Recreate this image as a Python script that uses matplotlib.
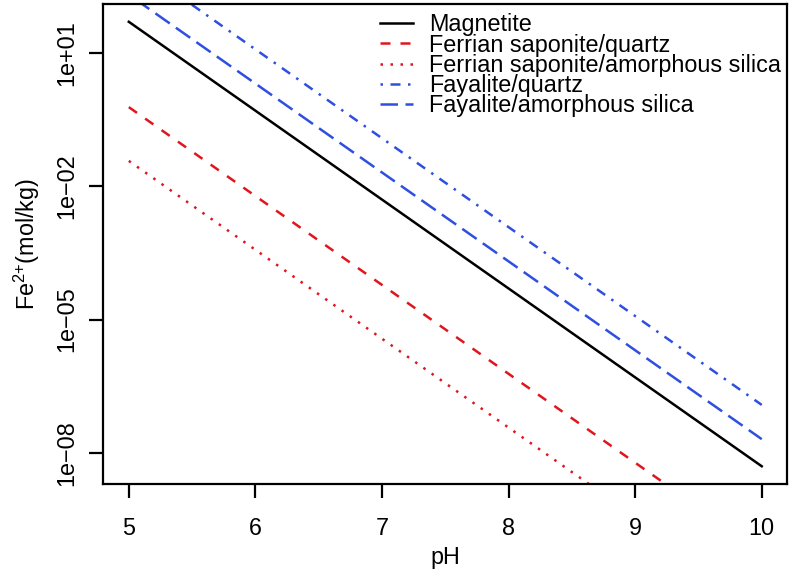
import numpy as np
import matplotlib
matplotlib.use("Agg")
import matplotlib.pyplot as plt

plt.rcParams["font.family"] = ["Liberation Sans", "DejaVu Sans"]
plt.rcParams["mathtext.fontset"] = "custom"
plt.rcParams["mathtext.rm"] = "Liberation Sans"
plt.rcParams["mathtext.default"] = "rm"

# pH end points and log10(Fe2+)
ph = np.array([5.0, 10.0])
log_magnetite = np.array([1.70, -8.30])
log_sap_quartz = np.array([-0.22, -10.22])
log_sap_amorph = np.array([-1.43, -11.43])
log_fay_quartz = np.array([3.08, -6.92])
log_fay_amorph = np.array([2.31, -7.69])

labels = ["Magnetite", "Ferrian saponite/quartz",
          "Ferrian saponite/amorphous silica", "Fayalite/quartz",
          "Fayalite/amorphous silica"]
xticks = [5, 6, 7, 8, 9, 10]
yticks = [1e1, 1e-2, 1e-5, 1e-8]
ytick_labels = ["1e+01", "1e\u221202", "1e\u221205", "1e\u221208"]

red = "#E0161E"
blue = "#2E4FE0"
lw = 1.8
fs = 16.8

fig = plt.figure(figsize=(7.93, 5.72), dpi=100)
ax = fig.add_axes([0.1305, 0.1538, 0.862, 0.8392])

ax.plot(ph, 10 ** log_magnetite, color="black", lw=lw, label=labels[0])
ax.plot(ph, 10 ** log_sap_quartz, color=red, lw=lw, dashes=(4, 4), label=labels[1])
ax.plot(ph, 10 ** log_sap_amorph, color=red, lw=lw, dashes=(1, 3), label=labels[2])
ax.plot(ph, 10 ** log_fay_quartz, color=blue, lw=lw, dashes=(1, 3, 4, 3), label=labels[3])
ax.plot(ph, 10 ** log_fay_amorph, color=blue, lw=lw, dashes=(7, 3), label=labels[4])

ax.set_yscale("log")
# R style 4% padding around the magnetite range
lo, hi = log_magnetite.min(), log_magnetite.max()
pad = 0.04 * (hi - lo)
ax.set_ylim(10 ** (lo - pad), 10 ** (hi + pad))
ax.set_xlim(ph[0] - 0.04 * 5, ph[1] + 0.04 * 5)

ax.set_yticks(yticks)
ax.set_yticklabels(ytick_labels, rotation=90, va="center")
ax.minorticks_off()
ax.set_xticks(xticks)

for s in ax.spines.values():
    s.set_linewidth(1.6)
ax.tick_params(axis="both", length=10, width=1.6, labelsize=fs)
ax.tick_params(axis="x", pad=14)
ax.tick_params(axis="y", pad=8.5)

ax.set_xlabel("pH", fontsize=fs, labelpad=4)
ax.set_ylabel("Fe$^{\\mathregular{2{+}}}$(mol/kg)", fontsize=fs, labelpad=9)

ax.legend(loc="upper right", frameon=False, fontsize=fs, handlelength=1.42,
          handletextpad=0.7, labelspacing=-0.12, borderaxespad=0.0,
          bbox_to_anchor=(1.005, 1.0))

fig.savefig("out.png", dpi=100)
